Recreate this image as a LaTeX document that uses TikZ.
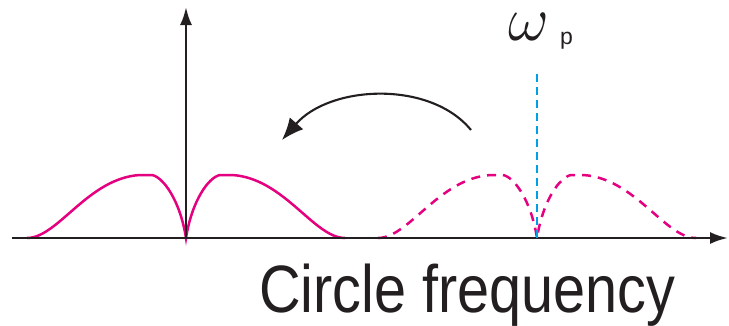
\RequirePackage{fix-cm}
\documentclass[tikz,border=0pt]{standalone}
\usepackage{fontspec}
\setmainfont{Liberation Sans}
\newfontfamily\labelfont[FakeStretch=0.86]{Liberation Sans}
\usepackage{xcolor}
\usetikzlibrary{arrows.meta}
\definecolor{accent}{HTML}{E4007F}
\definecolor{accent2}{HTML}{00A0E9}
\definecolor{ink}{HTML}{231F20}

\tikzset{
  lobes/.pic={
    \draw[pic actions] (-159,0) .. controls (-128,0) and (-98,-60) .. (-46,-63)
      -- (-34,-63) .. controls (-23,-61) and (-6,-38) .. (0,0)
      .. controls (6,-38) and (23,-61) .. (34,-63) -- (46,-63)
      .. controls (98,-60) and (128,0) .. (159,0);
  }
}

\begin{document}
\begin{tikzpicture}[
  x=1pt,y=-1pt,
  axis/.style={-{Latex[length=18pt,width=12pt]},line width=2.6pt,ink},
  band/.style={accent,line width=2.5pt},
  image/.style={band,dash pattern=on 9pt off 7pt},
  carrier/.style={accent2,line width=2.6pt,dash pattern=on 8pt off 5pt},
  turnarrow/.style={-{Latex[length=22pt,width=18pt]},line width=2.1pt,ink}
]
  \useasboundingbox (0,0) rectangle (729,325);

  % axes
  \coordinate (o) at (186,238);
  \coordinate (xstart) at (12,238);
  \coordinate (xend) at (728,238);
  \coordinate (ytop) at (186,7);
  \coordinate (wpfoot) at (537,238);
  \coordinate (wptop) at (537,73);

  % baseband and shifted spectrum
  \pic[band] at (o) {lobes};
  \pic[image] at (wpfoot) {lobes};

  \draw[axis] (xstart) -- (xend);
  \draw[axis] (o) -- (ytop);
  \draw[carrier] (wpfoot) -- (wptop);

  % shift back to baseband
  \coordinate (src) at (471,130);
  \coordinate (dst) at (282,140);
  \draw[turnarrow] (src) .. controls (430,80) and (330,85) .. (dst);

  % labels
  \node[inner sep=0,anchor=base,ink,font=\fontsize{63}{63}\selectfont] (wp) at (529,40) {$\omega$};
  \node[anchor=base west,inner sep=0,ink,font=\fontsize{23}{23}\selectfont] (wpsub) at (560,44) {p};
  \node[anchor=base west,inner sep=0,ink,font=\labelfont\fontsize{67}{67}\selectfont] (xlabel) at (259,312) {Circle frequency};
\end{tikzpicture}
\end{document}
